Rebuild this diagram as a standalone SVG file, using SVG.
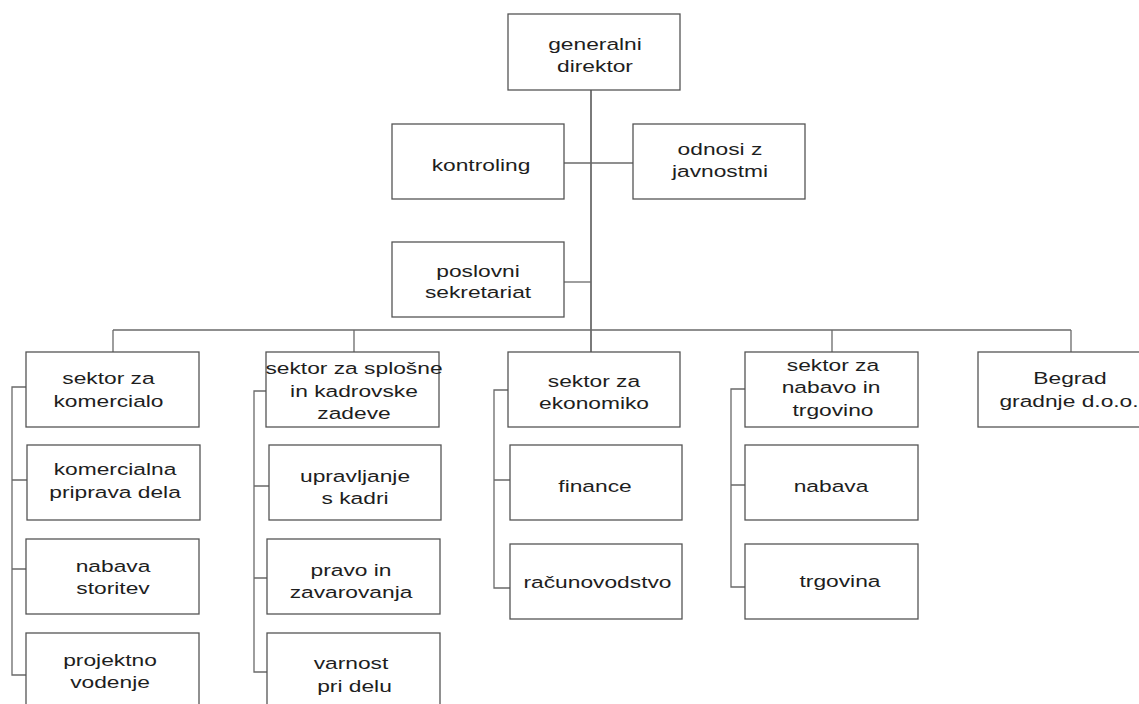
<svg xmlns="http://www.w3.org/2000/svg" width="1139" height="704" viewBox="0 0 1139 704">
<style>
.b{fill:#fff;stroke:#555;stroke-width:1.3}
.c{fill:none;stroke:#6a6a6a;stroke-width:1.3}
.tr{fill:none;stroke:#7a7a7a;stroke-width:2}
text{font-family:"Liberation Sans",Arial,sans-serif;font-size:17px;fill:#1e1e1e;text-anchor:middle}
</style>
<rect width="1139" height="704" fill="#fff"/>
<g id="connectors">
<path class="tr" d="M591,90 V352"/>
<path class="c" d="M564,163 H633"/>
<path class="c" d="M564,282 H591"/>
<path class="c" d="M113,330 H1071"/>
<path class="c" d="M113,330 V352 M354,330 V352 M832,330 V352 M1071,330 V352"/>
<path class="c" d="M26,387 H12 V675 H26 M12,480 H27 M12,569 H26"/>
<path class="c" d="M266,391 H254 V672 H267 M254,486 H269 M254,578 H267"/>
<path class="c" d="M508,390 H494 V588 H510 M494,480 H510"/>
<path class="c" d="M745,389 H731 V587 H745 M731,485 H745"/>
</g>
<g id="generalni-direktor"><rect class="b" x="508" y="14" width="172" height="76"/>
<text transform="translate(595,50) scale(1.34,1)">generalni</text>
<text transform="translate(595,72) scale(1.34,1)">direktor</text></g>
<g id="kontroling"><rect class="b" x="392" y="124" width="172" height="75"/>
<text transform="translate(481,171) scale(1.34,1)">kontroling</text></g>
<g id="odnosi"><rect class="b" x="633" y="124" width="172" height="75"/>
<text transform="translate(720,155) scale(1.34,1)">odnosi z</text>
<text transform="translate(720,177) scale(1.34,1)">javnostmi</text></g>
<g id="poslovni"><rect class="b" x="392" y="242" width="172" height="75"/>
<text transform="translate(478,277) scale(1.34,1)">poslovni</text>
<text transform="translate(478,298) scale(1.34,1)">sekretariat</text></g>
<g id="sektor-komercialo"><rect class="b" x="26" y="352" width="173" height="75"/>
<text transform="translate(108.5,384) scale(1.34,1)">sektor za</text>
<text transform="translate(108.5,407) scale(1.34,1)">komercialo</text></g>
<g id="komercialna"><rect class="b" x="27" y="445" width="173" height="75"/>
<text transform="translate(115,475) scale(1.34,1)">komercialna</text>
<text transform="translate(115,498) scale(1.34,1)">priprava dela</text></g>
<g id="nabava-storitev"><rect class="b" x="26" y="539" width="173" height="75"/>
<text transform="translate(113,572) scale(1.34,1)">nabava</text>
<text transform="translate(113,594) scale(1.34,1)">storitev</text></g>
<g id="projektno"><rect class="b" x="26" y="633" width="173" height="80"/>
<text transform="translate(110,666) scale(1.34,1)">projektno</text>
<text transform="translate(110,688) scale(1.34,1)">vodenje</text></g>
<g id="sektor-splosne"><rect class="b" x="266" y="352" width="173" height="75"/>
<text transform="translate(354,374) scale(1.34,1)">sektor za splošne</text>
<text transform="translate(354,397) scale(1.34,1)">in kadrovske</text>
<text transform="translate(354,419) scale(1.34,1)">zadeve</text></g>
<g id="upravljanje"><rect class="b" x="269" y="445" width="172" height="75"/>
<text transform="translate(355,482) scale(1.34,1)">upravljanje</text>
<text transform="translate(355,504) scale(1.34,1)">s kadri</text></g>
<g id="pravo"><rect class="b" x="267" y="539" width="173" height="75"/>
<text transform="translate(351,576) scale(1.34,1)">pravo in</text>
<text transform="translate(351,598) scale(1.34,1)">zavarovanja</text></g>
<g id="varnost"><rect class="b" x="267" y="633" width="173" height="80"/>
<text transform="translate(351,669) scale(1.34,1)">varnost</text>
<text transform="translate(354.5,692) scale(1.34,1)">pri delu</text></g>
<g id="sektor-ekonomiko"><rect class="b" x="508" y="352" width="172" height="75"/>
<text transform="translate(594,387) scale(1.34,1)">sektor za</text>
<text transform="translate(594,409) scale(1.34,1)">ekonomiko</text></g>
<g id="finance"><rect class="b" x="510" y="445" width="172" height="75"/>
<text transform="translate(595,492) scale(1.34,1)">finance</text></g>
<g id="racunovodstvo"><rect class="b" x="510" y="544" width="172" height="75"/>
<text transform="translate(597.5,588) scale(1.34,1)">računovodstvo</text></g>
<g id="sektor-nabavo"><rect class="b" x="745" y="352" width="173" height="75"/>
<text transform="translate(833,371) scale(1.34,1)">sektor za</text>
<text transform="translate(831,393) scale(1.34,1)">nabavo in</text>
<text transform="translate(833,416) scale(1.34,1)">trgovino</text></g>
<g id="nabava"><rect class="b" x="745" y="445" width="173" height="75"/>
<text transform="translate(831,492) scale(1.34,1)">nabava</text></g>
<g id="trgovina"><rect class="b" x="745" y="544" width="173" height="75"/>
<text transform="translate(840,587) scale(1.34,1)">trgovina</text></g>
<g id="begrad"><rect class="b" x="978" y="352" width="172" height="75"/>
<text transform="translate(1070,384) scale(1.34,1)">Begrad</text>
<text transform="translate(1069,407) scale(1.34,1)">gradnje d.o.o.</text></g>
</svg>
